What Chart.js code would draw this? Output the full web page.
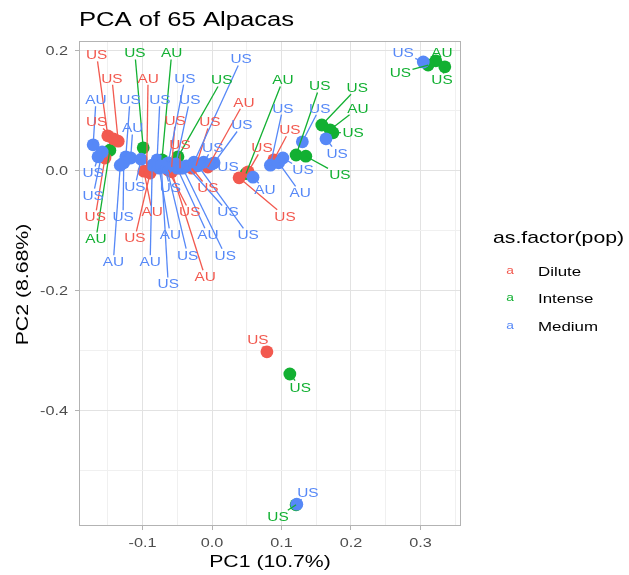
<!DOCTYPE html>
<html><head><meta charset="utf-8">
<script src="https://cdn.jsdelivr.net/npm/chart.js@4"></script>
<style>html,body{margin:0;padding:0;background:#fff;}canvas{display:block}</style>
</head><body>
<canvas id="c" width="629" height="575"></canvas>
<script>
// ---------- data ----------
const groupNames = ['Dilute', 'Intense', 'Medium'];

const diluteX = [-0.150,-0.135,-0.094,-0.006,-0.142,-0.058,-0.023,0.089,-0.046,0.052,0.039,-0.029,-0.154,-0.098,-0.063,-0.089,-0.058,0.079];
const diluteY = [0.057,0.048,-0.002,0.005,0.052,0.005,0.007,0.017,0.003,-0.003,-0.013,0.003,0.020,-0.002,0.000,-0.005,-0.003,-0.303];
const diluteLabX = [-0.166,-0.144,-0.092,0.046,-0.166,-0.053,-0.003,0.112,-0.046,0.072,0.105,-0.006,-0.168,-0.086,-0.032,-0.111,-0.010,0.066];
const diluteLabY = [0.192,0.153,0.153,0.113,0.080,0.083,0.080,0.067,0.042,0.037,-0.077,-0.030,-0.078,-0.070,-0.070,-0.113,-0.178,-0.283];
const diluteOrigin = ['US','US','AU','AU','US','US','US','US','US','US','US','US','US','AU','US','US','AU','US'];

const intenseX = [-0.099,-0.072,-0.049,0.049,0.121,0.158,0.170,0.174,0.135,-0.147,0.322,0.311,0.335,0.112,0.121];
const intenseY = [0.037,0.017,0.022,-0.006,0.025,0.075,0.067,0.062,0.023,0.033,0.182,0.175,0.172,-0.340,-0.558];
const intenseLabX = [-0.111,-0.058,0.014,0.102,0.155,0.209,0.210,0.203,0.184,-0.167,0.331,0.271,0.331,0.127,0.095];
const intenseLabY = [0.195,0.195,0.150,0.150,0.140,0.137,0.103,0.063,-0.008,-0.115,0.195,0.162,0.150,-0.362,-0.578];
const intenseOrigin = ['US','AU','US','AU','US','US','AU','US','US','AU','AU','US','US','US','US'];

const mediumX = [-0.026,-0.063,-0.171,-0.124,-0.079,-0.052,0.084,0.130,-0.117,0.003,-0.012,0.164,0.000,0.102,0.059,0.096,-0.164,-0.102,-0.069,-0.158,-0.127,-0.037,-0.020,-0.076,-0.050,-0.132,-0.086,-0.065,-0.042,-0.073,0.304,0.122];
const mediumY = [0.013,0.012,0.042,0.022,0.017,0.010,0.008,0.047,0.020,0.012,0.013,0.052,0.010,0.020,-0.012,0.012,0.022,0.018,0.007,0.030,0.012,0.007,0.007,0.003,0.003,0.008,0.008,0.003,0.003,0.008,0.180,-0.557];
const mediumLabX = [0.042,-0.039,-0.167,-0.118,-0.075,-0.032,0.102,0.155,-0.114,0.043,0.001,0.180,0.023,0.131,0.076,0.127,-0.171,-0.111,-0.060,-0.171,-0.128,0.023,0.052,-0.060,-0.006,-0.142,-0.089,-0.035,0.019,-0.063,0.275,0.138];
const mediumLabY = [0.185,0.153,0.117,0.117,0.117,0.117,0.103,0.103,0.070,0.075,0.037,0.028,0.005,0.000,-0.033,-0.038,-0.005,-0.028,-0.030,-0.042,-0.078,-0.070,-0.108,-0.108,-0.108,-0.153,-0.153,-0.142,-0.142,-0.190,0.195,-0.538];
const mediumOrigin = ['US','US','AU','US','US','US','US','US','AU','US','US','US','US','US','AU','AU','US','US','US','US','US','US','US','AU','AU','AU','AU','US','US','US','US','US'];

const xTickValues = [-0.1, 0.0, 0.1, 0.2, 0.3];
const xTickLabels = ['-0.1', '0.0', '0.1', '0.2', '0.3'];
const xMinorValues = [-0.15, -0.05, 0.05, 0.15, 0.25, 0.35];
const yTickValues = [0.2, 0.0, -0.2, -0.4];
const yTickLabels = ['0.2', '0.0', '-0.2', '-0.4'];
const yMinorValues = [0.1, -0.1, -0.3, -0.5];

const titleText = 'PCA of 65 Alpacas';
const xTitle = 'PC1 (10.7%)';
const yTitle = 'PC2 (8.68%)';
const legendTitle = 'as.factor(pop)';

// ---------- styling ----------
const COLORS = ['#F2594F', '#12B032', '#5688F7'];
const DRAW_ORDER = [2, 3, 1]; // lower = drawn on top
const FONT = '"Liberation Sans", Arial, Helvetica, sans-serif';
const SX = 1.25; // horizontal stretch of the reference's text

const series = [
  {name: groupNames[0], x: diluteX, y: diluteY, lx: diluteLabX, ly: diluteLabY, lab: diluteOrigin, color: COLORS[0]},
  {name: groupNames[1], x: intenseX, y: intenseY, lx: intenseLabX, ly: intenseLabY, lab: intenseOrigin, color: COLORS[1]},
  {name: groupNames[2], x: mediumX, y: mediumY, lx: mediumLabX, ly: mediumLabY, lab: mediumOrigin, color: COLORS[2]}
];

function txt(ctx, s, x, y, size, color, align, rot) {
  ctx.save();
  ctx.font = size + 'px ' + FONT;
  ctx.fillStyle = color;
  ctx.textBaseline = 'alphabetic';
  ctx.textAlign = align || 'left';
  ctx.translate(x, y);
  if (rot) ctx.rotate(rot);
  ctx.scale(SX, 1);
  ctx.fillText(s, 0, size * 0.358);
  ctx.restore();
}

const near = (v, arr) => arr.some(a => Math.abs(a - v) < 1e-6);

const decorPlugin = {
  id: 'decor',
  afterDatasetsDraw(chart) {
    const {ctx, scales: {x, y}, chartArea: ca} = chart;
    // repel-style labels: segments first, then text
    ctx.save();
    ctx.beginPath(); ctx.rect(ca.left, ca.top, ca.right - ca.left, ca.bottom - ca.top); ctx.clip();
    const LS = 12.3;
    ctx.font = LS + 'px ' + FONT;
    series.forEach(s => {
      s.x.forEach((v, i) => {
        const px = x.getPixelForValue(v), py = y.getPixelForValue(s.y[i]);
        const lx = x.getPixelForValue(s.lx[i]), ly = y.getPixelForValue(s.ly[i]);
        const w = ctx.measureText(s.lab[i]).width * SX;
        const hw = w / 2 + 1.5, hh = 6.5;
        const dx = px - lx, dy = py - ly;
        if (Math.abs(dx) <= hw && Math.abs(dy) <= hh) return;
        const t = Math.min(hw / Math.max(Math.abs(dx), 1e-9), hh / Math.max(Math.abs(dy), 1e-9));
        const ex = lx + dx * t, ey = ly + dy * t;
        if (Math.hypot(px - ex, py - ey) < 5) return;
        ctx.strokeStyle = s.color; ctx.lineWidth = 1.3;
        ctx.beginPath(); ctx.moveTo(ex, ey); ctx.lineTo(px, py); ctx.stroke();
      });
    });
    series.forEach(s => {
      s.x.forEach((v, i) => {
        txt(ctx, s.lab[i], x.getPixelForValue(s.lx[i]), y.getPixelForValue(s.ly[i]), LS, s.color, 'center');
      });
    });
    ctx.restore();
  },
  afterDraw(chart) {
    const {ctx, scales: {x, y}, chartArea: ca} = chart;
    // panel border
    ctx.save();
    ctx.strokeStyle = '#B3B3B3'; ctx.lineWidth = 1;
    ctx.strokeRect(Math.round(ca.left) + 0.5, Math.round(ca.top) + 0.5, Math.round(ca.right - ca.left) - 1, Math.round(ca.bottom - ca.top) - 1);
    ctx.restore();
    // tick labels
    xTickValues.forEach((v, i) => txt(ctx, xTickLabels[i], x.getPixelForValue(v), ca.bottom + 16, 13, '#4D4D4D', 'center'));
    yTickValues.forEach((v, i) => txt(ctx, yTickLabels[i], ca.left - 11, y.getPixelForValue(v), 13, '#4D4D4D', 'right'));
    // titles
    txt(ctx, titleText, 79, 19, 20.5, '#000', 'left');
    txt(ctx, xTitle, (ca.left + ca.right) / 2, 561, 17, '#000', 'center');
    txt(ctx, yTitle, 22, (ca.top + ca.bottom) / 2 + 1, 17, '#000', 'center', -Math.PI / 2);
    // legend
    txt(ctx, legendTitle, 493, 237, 17, '#000', 'left');
    const ly = [271, 298, 326];
    series.forEach((s, i) => {
      txt(ctx, 'a', 510, ly[i] - 1, 11, s.color, 'center');
      txt(ctx, s.name, 538, ly[i], 13.5, '#000', 'left');
    });
  }
};

const isMajorX = v => near(v, xTickValues);
const isMajorY = v => near(v, yTickValues);

new Chart(document.getElementById('c'), {
  type: 'scatter',
  data: {
    datasets: series.map((s, k) => ({
      label: s.name,
      data: s.x.map((v, i) => ({x: v, y: s.y[i]})),
      backgroundColor: s.color,
      borderWidth: 0,
      pointRadius: 6.4,
      pointHoverRadius: 6.4,
      order: DRAW_ORDER[k]
    }))
  },
  options: {
    responsive: false,
    animation: false,
    devicePixelRatio: 1,
    layout: {padding: {left: 0, right: 168, top: 41, bottom: 0}},
    plugins: {legend: {display: false}, tooltip: {enabled: false}, title: {display: false}},
    scales: {
      x: {
        type: 'linear', min: -0.1914, max: 0.3583,
        afterBuildTicks: sc => { sc.ticks = xMinorValues.concat(xTickValues).sort((a, b) => a - b).map(v => ({value: v})); },
        afterFit: sc => { sc.height = 49; },
        ticks: {display: false},
        border: {display: false},
        grid: {
          color: c => isMajorX(c.tick.value) ? '#E2E2E2' : '#F0F0F0',
          lineWidth: 1,
          tickLength: 4,
          tickColor: c => isMajorX(c.tick.value) ? '#B3B3B3' : 'rgba(0,0,0,0)'
        }
      },
      y: {
        type: 'linear', min: -0.5933, max: 0.215,
        afterBuildTicks: sc => { sc.ticks = yMinorValues.concat(yTickValues).sort((a, b) => a - b).map(v => ({value: v})); },
        afterFit: sc => { sc.width = 79; },
        ticks: {display: false},
        border: {display: false},
        grid: {
          color: c => isMajorY(c.tick.value) ? '#E2E2E2' : '#F0F0F0',
          lineWidth: 1,
          tickLength: 4,
          tickColor: c => isMajorY(c.tick.value) ? '#B3B3B3' : 'rgba(0,0,0,0)'
        }
      }
    }
  },
  plugins: [decorPlugin]
});
</script>
</body></html>
